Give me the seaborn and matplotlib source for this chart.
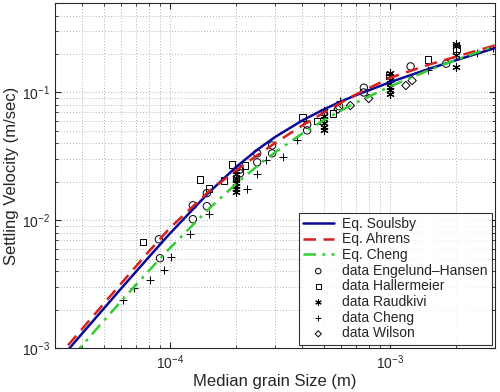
import seaborn as sns
import pandas as pd
import matplotlib.pyplot as plt
import numpy as np

# equation curves (grain size in m, velocity in m/s)
grain = [3e-5, 3.5e-5, 4e-5, 5e-5, 6e-5, 8e-5, 1e-4, 1.5e-4, 2e-4, 2.5e-4, 3e-4,
         4e-4, 5e-4, 6e-4, 7e-4, 1e-3, 1.5e-3, 2e-3, 3e-3]
soulsby = [7.4e-4, 1.003e-3, 1.31e-3, 2.04e-3, 2.93e-3, 5.14e-3, 7.90e-3, 1.648e-2,
           2.618e-2, 3.578e-2, 4.477e-2, 6.05e-2, 7.37e-2, 8.52e-2, 9.52e-2, 0.1204,
           0.1529, 0.1792, 0.2223]
ahrens = [8.01e-4, 1.091e-3, 1.425e-3, 2.226e-3, 3.206e-3, 5.69e-3, 8.73e-3, 1.678e-2,
          2.46e-2, 3.241e-2, 4.017e-2, 5.53e-2, 6.96e-2, 8.33e-2, 9.65e-2, 0.1302,
          0.1650, 0.1907, 0.2336]
cheng_eq = [6.0e-4, 8.13e-4, 1.058e-3, 1.637e-3, 2.329e-3, 4.02e-3, 6.07e-3, 1.228e-2,
            1.935e-2, 2.670e-2, 3.399e-2, 4.791e-2, 6.07e-2, 7.25e-2, 8.33e-2, 0.1115,
            0.1493, 0.1803, 0.2309]

# measured data
eh_d = [8.9e-5, 9.0e-5, 1.27e-4, 1.27e-4, 1.47e-4, 1.47e-4, 2.08e-4, 2.08e-4, 2.49e-4,
        2.49e-4, 2.91e-4, 2.91e-4, 4.2e-4, 4.2e-4, 5.87e-4, 7.6e-4, 7.6e-4, 1.24e-3, 1.8e-3]
eh_w = [7.1e-3, 5.05e-3, 1.02e-2, 1.31e-2, 1.29e-2, 1.63e-2, 2.5e-2, 2.33e-2, 2.84e-2,
        3.34e-2, 3.85e-2, 3.34e-2, 5.05e-2, 5.6e-2, 7.8e-2, 0.109, 0.1, 0.16, 0.168]

hal_d = [7.54e-5, 1.37e-4, 1.5e-4, 1.76e-4, 1.91e-4, 2.19e-4, 4.0e-4, 4.66e-4, 5.5e-4,
         9.9e-4, 1.49e-3, 2.0e-3]
hal_w = [6.74e-3, 2.09e-2, 1.78e-2, 2.05e-2, 2.74e-2, 2.69e-2, 6.38e-2, 6.0e-2, 6.86e-2,
         0.136, 0.181, 0.221]

rau_d = [2e-4] * 8 + [5e-4] * 6 + [1e-3] * 7 + [2e-3] * 4
rau_w = [1.65e-2, 1.75e-2, 1.85e-2, 1.95e-2, 2.05e-2, 2.15e-2, 2.3e-2, 2.45e-2,
         5.05e-2, 5.4e-2, 5.8e-2, 6.2e-2, 6.6e-2, 7.2e-2,
         9.8e-2, 0.104, 0.11, 0.118, 0.125, 0.135, 0.143,
         0.157, 0.195, 0.23, 0.2415]

chd_d = [6.1e-5, 6.86e-5, 8.1e-5, 9.4e-5, 1.01e-4, 1.23e-4, 1.5e-4, 2.24e-4, 2.49e-4,
         2.73e-4, 3.26e-4, 3.78e-4, 5.93e-4, 1.49e-3, 2.49e-3, 2.94e-3]
chd_w = [2.37e-3, 2.94e-3, 3.4e-3, 4.07e-3, 5.14e-3, 7.8e-3, 1.13e-2, 1.75e-2, 2.29e-2,
         2.94e-2, 3.1e-2, 4.22e-2, 8.5e-2, 0.149, 0.205, 0.2245]

wil_d = [5.8e-4, 6.6e-4, 8.0e-4, 1.18e-3, 1.26e-3]
wil_w = [7.4e-2, 7.9e-2, 8.97e-2, 0.1134, 0.124]

sns.set_style('ticks')
plt.rcParams['font.family'] = ['Liberation Sans', 'DejaVu Sans']
plt.rcParams['mathtext.fontset'] = 'custom'
plt.rcParams['mathtext.rm'] = 'Liberation Sans'

fig = plt.figure(figsize=(5, 3.92), dpi=100)
ax = fig.add_axes([0.11, 0.112, 0.88, 0.880])
ax.set_xscale('log')
ax.set_yscale('log')

sns.lineplot(x=grain, y=soulsby, color='#0a0a96', lw=1.8, sort=False, label='Eq. Soulsby', ax=ax)
sns.lineplot(x=grain, y=ahrens, color='#d42020', lw=1.8, sort=False, label='Eq. Ahrens', ax=ax)
sns.lineplot(x=grain, y=cheng_eq, color='#33cc33', lw=1.8, sort=False, label='Eq. Cheng', ax=ax)
ax.lines[1].set_dashes([5, 3])
ax.lines[2].set_dashes([5, 2.5, 1.2, 2.5])

sns.scatterplot(x=eh_d, y=eh_w, marker='o', s=28, ax=ax, label='data Engelund\u2013Hansen')
ax.collections[-1].set_facecolor('none')
ax.collections[-1].set_edgecolor('k')
ax.collections[-1].set_linewidth(0.7)
sns.scatterplot(x=hal_d, y=hal_w, marker='s', s=22, ax=ax, label='data Hallermeier')
ax.collections[-1].set_facecolor('none')
ax.collections[-1].set_edgecolor('k')
ax.collections[-1].set_linewidth(0.7)
sns.scatterplot(x=rau_d, y=rau_w, marker=(6, 2, 0), s=28, color='k', linewidth=0.8,
                ax=ax, label='data Raudkivi')
sns.scatterplot(x=chd_d, y=chd_w, marker='+', s=32, color='k', linewidth=0.7,
                ax=ax, label='data Cheng')
sns.scatterplot(x=wil_d, y=wil_w, marker='D', s=18, ax=ax, label='data Wilson')
ax.collections[-1].set_facecolor('none')
ax.collections[-1].set_edgecolor('k')
ax.collections[-1].set_linewidth(0.7)

ax.set_xlim(3e-5, 3e-3)
ax.set_ylim(1e-3, 0.5)
ax.grid(True, which='both', linestyle=(0, (1, 2.5)), color='#999999', linewidth=0.6)
ax.tick_params(which='both', direction='in', top=True, right=True, labelsize=10)
ax.tick_params(which='major', length=4)
ax.tick_params(which='minor', length=2)
for sp in ax.spines.values():
    sp.set_linewidth(0.8)
ax.set_xlabel('Median grain Size (m)', fontsize=12, labelpad=2)
ax.set_ylabel('Settling Velocity (m/sec)', fontsize=12, labelpad=2)

leg = ax.legend(loc='lower right', fontsize=10, frameon=True, fancybox=False,
                edgecolor='k', borderaxespad=0.25, handlelength=2.2, labelspacing=0.12,
                borderpad=0.3, handletextpad=0.6, markerscale=0.75)
leg.get_frame().set_linewidth(0.8)

fig.savefig('out.png', dpi=100)
